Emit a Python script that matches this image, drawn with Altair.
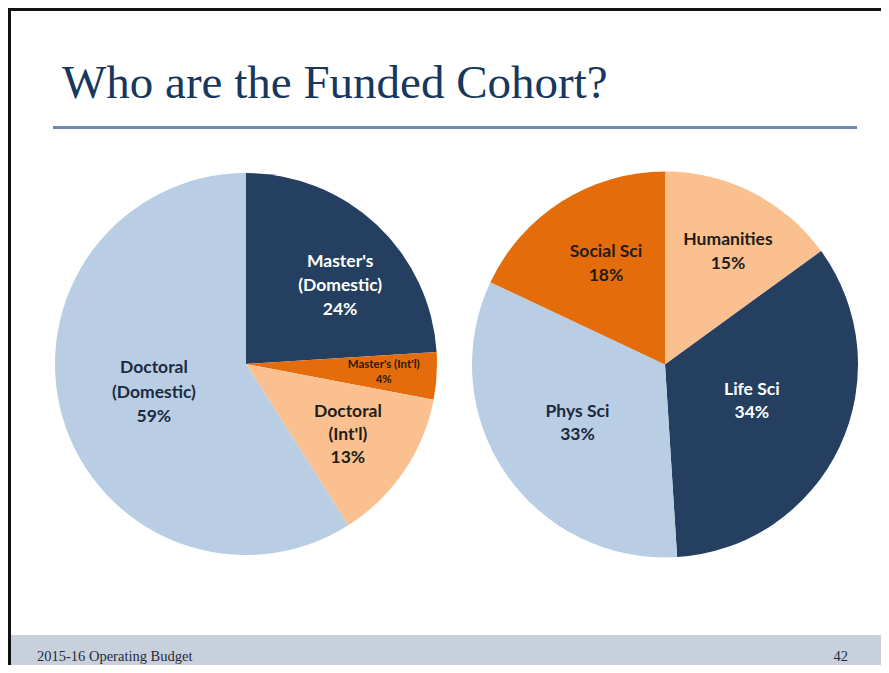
import math
import altair as alt
import pandas as pd

# ---- data ----
left_cats = ["Master's (Domestic)", "Master's (Int'l)", "Doctoral (Int'l)", "Doctoral (Domestic)"]
left_vals = [24, 4, 13, 59]
left_labels = ["Master's\n(Domestic)\n24%", "Master's (Int'l)\n4%", "Doctoral\n(Int'l)\n13%", "Doctoral\n(Domestic)\n59%"]

right_cats = ["Humanities", "Life Sci", "Phys Sci", "Social Sci"]
right_vals = [15, 34, 33, 18]
right_labels = ["Humanities\n15%", "Life Sci\n34%", "Phys Sci\n33%", "Social Sci\n18%"]

title_text = "Who are the Funded Cohort?"
footer_left = "2015-16 Operating Budget"
footer_right = "42"

# ---- styles ----
NAVY = "#243f60"
LBLUE = "#b9cde5"
ORANGE = "#e46c0a"
LORANGE = "#fac090"
left_colors = [NAVY, ORANGE, LORANGE, LBLUE]
right_colors = [LORANGE, NAVY, LBLUE, ORANGE]

W, H = 873, 657
OFF = 8  # page margin offset

left_df = pd.DataFrame({"cat": left_cats, "value": left_vals, "label": left_labels, "idx": range(4)})
right_df = pd.DataFrame({"cat": right_cats, "value": right_vals, "label": right_labels, "idx": range(4)})

color_scale = alt.Scale(domain=left_cats + right_cats, range=left_colors + right_colors)
theta_enc = alt.Theta("value:Q", stack=True, scale=alt.Scale(domain=[0, 100]))
order_enc = alt.Order("idx:Q", sort="ascending")

dummy = pd.DataFrame({"a": [0]})


def pie(df, cx, cy, r):
    return alt.Chart(df).mark_arc(radius=r, stroke=None).encode(
        theta=theta_enc,
        order=order_enc,
        color=alt.Color("cat:N", scale=color_scale, legend=None),
        x=alt.value(cx - OFF),
        y=alt.value(cy - OFF),
    )


def label(df, cx, cy, i, r, color, dx=0, dy=0, size=17.5, lh=24):
    return alt.Chart(df).mark_text(
        radius=r, font="Lato", fontWeight="bold", fontSize=size, lineBreak="\n",
        lineHeight=lh, align="center", baseline="middle", color=color, dx=dx, dy=dy,
    ).encode(
        theta=theta_enc,
        order=order_enc,
        text="label:N",
        opacity=alt.condition(f"datum.idx == {i}", alt.value(1), alt.value(0)),
        x=alt.value(cx - OFF),
        y=alt.value(cy - OFF),
    )


DARK = "#221d1a"
DARKB = "#1d2a3e"

LCX, LCY, LR = 246, 364, 191
RCX, RCY, RR = 665, 364.5, 193

layers = []

# footer band
layers.append(alt.Chart(dummy).mark_rect(color="#c8d0dc").encode(
    x=alt.value(3), x2=alt.value(W), y=alt.value(627), y2=alt.value(H)))
# border
layers.append(alt.Chart(dummy).mark_rect(fill=None, stroke="#111111", strokeWidth=3).encode(
    x=alt.value(1.5), x2=alt.value(W + 10), y=alt.value(1.5), y2=alt.value(H + 10)))
# title
layers.append(alt.Chart(dummy).mark_text(
    text=title_text, font="Liberation Serif", fontSize=47, color="#17375e",
    align="left", baseline="alphabetic").encode(x=alt.value(62 - OFF), y=alt.value(98 - OFF)))
# title rule
layers.append(alt.Chart(dummy).mark_rule(color="#6f89a8", strokeWidth=3).encode(
    x=alt.value(53 - OFF), x2=alt.value(857 - OFF), y=alt.value(127.5 - OFF)))
# footer texts
layers.append(alt.Chart(dummy).mark_text(
    text=footer_left, font="Liberation Serif", fontSize=14.5, color="#1f2d3d",
    align="left", baseline="middle").encode(x=alt.value(37 - OFF), y=alt.value(657 - OFF)))
layers.append(alt.Chart(dummy).mark_text(
    text=footer_right, font="Liberation Serif", fontSize=14.5, color="#1f2d3d",
    align="right", baseline="middle").encode(x=alt.value(848 - OFF), y=alt.value(657 - OFF)))

# pies
layers.append(pie(left_df, LCX, LCY, LR))
layers.append(pie(right_df, RCX, RCY, RR))

# left labels
layers.append(label(left_df, LCX, LCY, 0, 120, "white", dx=12, dy=-14.5))
layers.append(label(left_df, LCX, LCY, 1, 136, "#2a1a0a", dx=2, dy=-7.5, size=11.5, lh=15))
layers.append(label(left_df, LCX, LCY, 2, 125, DARK, dx=-1.5, dy=-22.3, lh=23))
layers.append(label(left_df, LCX, LCY, 3, 98, DARKB, dx=2, dy=-23.3, lh=24.5))

# right labels
layers.append(label(right_df, RCX, RCY, 0, 127, DARK, dx=5.3, dy=-11.3))
layers.append(label(right_df, RCX, RCY, 1, 96, "white", dx=0, dy=-15.4, lh=23))
layers.append(label(right_df, RCX, RCY, 2, 104, DARKB, dx=-1.5, dy=-11, lh=23))
layers.append(label(right_df, RCX, RCY, 3, 115, DARK, dx=2.6, dy=-15.4))

chart = alt.layer(*layers).properties(
    width=W, height=H, autosize=alt.AutoSizeParams(type="none"), padding=0
).configure_view(stroke=None)

chart.save("out.html", embed_options={"renderer": "svg", "actions": False})
